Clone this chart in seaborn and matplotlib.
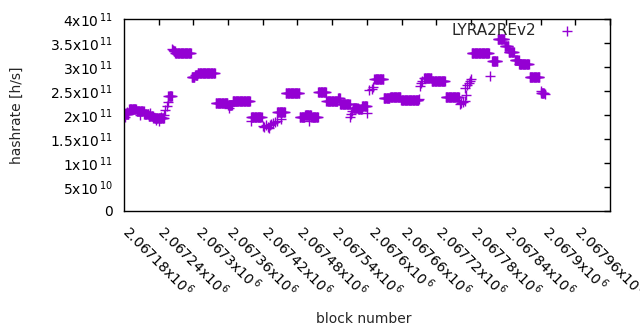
import matplotlib
matplotlib.use('Agg')
import matplotlib.pyplot as plt
import numpy as np
import pandas as pd
import seaborn as sns

# block offsets are relative to this block height
BASE = 2067120

# plateaus: first offset, last offset, hashrate (x1e11)
seg_start = [1, 9, 22, 35, 43, 51, 77, 86, 89, 117, 123, 128, 159, 180, 188,
             220, 265, 280, 304, 313, 324, 336, 350, 370, 374, 396, 405, 412,
             433, 449, 460, 479, 519, 532, 556, 601, 636, 646, 658, 665, 675,
             683, 701, 722]
seg_end = [8, 21, 34, 42, 50, 69, 83, 88, 116, 122, 127, 157, 179, 187, 218,
           238, 278, 303, 312, 323, 335, 349, 369, 373, 390, 404, 411, 420,
           448, 459, 478, 509, 531, 555, 579, 631, 645, 657, 664, 674, 682,
           700, 718, 726]
seg_rate = [2.03, 2.12, 2.08, 2.02, 1.97, 1.94, 2.39, 3.34, 3.285, 2.785, 2.83,
            2.87, 2.255, 2.20, 2.29, 1.965, 2.06, 2.465, 1.95, 1.99, 1.95, 2.47,
            2.29, 2.35, 2.22, 2.15, 2.13, 2.19, 2.76, 2.35, 2.37, 2.31, 2.77,
            2.70, 2.38, 3.30, 3.13, 3.58, 3.43, 3.31, 3.15, 3.06, 2.785, 2.46]

# single blocks off the plateaus
pt_block = [2, 5, 28, 45, 55, 60, 64, 70, 72, 74, 76, 84, 85, 182, 219, 240,
            243, 246, 249, 250, 252, 255, 258, 261, 264, 272, 320, 391, 393,
            395, 421, 424, 428, 431, 510, 512, 514, 516, 580, 583, 586, 589,
            591, 590, 593, 596, 598, 600, 632, 720, 721, 727]
pt_rate = [1.96, 2.06, 2.0, 2.04, 1.89, 1.88, 1.96, 2.0, 2.1, 2.19, 2.28, 3.38,
           3.36, 2.15, 1.875, 1.78, 1.76, 1.79, 1.75, 1.72, 1.8, 1.82, 1.84,
           1.86, 1.88, 1.92, 1.87, 1.95, 2.02, 2.08, 2.05, 2.52, 2.55, 2.58,
           2.34, 2.6, 2.66, 2.7, 2.22, 2.25, 2.28, 2.3, 2.42, 2.57, 2.62, 2.66,
           2.70, 2.74, 2.81, 2.49, 2.45, 2.43]

xtick_values = [2067180, 2067240, 2067300, 2067360, 2067420, 2067480, 2067540,
                2067600, 2067660, 2067720, 2067780, 2067840, 2067900, 2067960]
xtick_labels = ['2.06718', '2.06724', '2.0673', '2.06736', '2.06742', '2.06748',
                '2.06754', '2.0676', '2.06766', '2.06772', '2.06778', '2.06784',
                '2.0679', '2.06796']
ytick_values = [0, 5e10, 1e11, 1.5e11, 2e11, 2.5e11, 3e11, 3.5e11, 4e11]
ytick_labels = ['0', '5x10$^{\\,10}$', '1x10$^{\\,11}$', '1.5x10$^{\\,11}$',
                '2x10$^{\\,11}$', '2.5x10$^{\\,11}$', '3x10$^{\\,11}$',
                '3.5x10$^{\\,11}$', '4x10$^{\\,11}$']

blocks = []
rates = []
for a, b, r in zip(seg_start, seg_end, seg_rate):
    for k in range(a, b + 1):
        blocks.append(BASE + k)
        rates.append(r * 1e11)
for k, r in zip(pt_block, pt_rate):
    blocks.append(BASE + k)
    rates.append(r * 1e11)
df = pd.DataFrame({'block': blocks, 'hashrate': rates})

sns.set_style('white')
plt.rcParams['font.family'] = ['DejaVu Sans']
plt.rcParams['font.size'] = 10

fig = plt.figure(figsize=(6.4, 3.3), dpi=100)
ax = fig.add_axes([124 / 640, 1 - 211 / 330, 486 / 640, 192 / 330])

sns.scatterplot(data=df, x='block', y='hashrate', marker='+', s=50,
                linewidth=1.0, color='#9400D3', label='LYRA2REv2', ax=ax)

ax.set_xlim(2067120.3, 2067960)
ax.set_ylim(0, 4e11)
ax.set_xticks(xtick_values)
ax.set_xticklabels([t + 'x10$^{\\,6}$' for t in xtick_labels], rotation=-45)
ax.set_yticks(ytick_values)
ax.set_yticklabels(ytick_labels)
ax.tick_params(axis='both', direction='in', length=4, width=1, top=True,
               right=True, labelsize=10, colors='black')
ax.tick_params(axis='y', pad=8)
ax.tick_params(axis='x', pad=8)
for sp in ax.spines.values():
    sp.set_color('black')
    sp.set_linewidth(1)
ax.set_xlabel('')
ax.set_ylabel('')

fig.text(16.5 / 640, 1 - 115 / 330, 'hashrate [h/s]', rotation=90,
         ha='center', va='center', fontsize=10)
fig.text(364 / 640, 1 - 319 / 330, 'block number', ha='center', va='center',
         fontsize=10)

ax.legend(loc='upper right', bbox_to_anchor=((582 - 124) / 486, (211 - 23) / 192),
          frameon=False, markerfirst=False, handletextpad=1.0, borderpad=0,
          borderaxespad=0, fontsize=11, handlelength=2)

fig.savefig('out.png', dpi=100)
